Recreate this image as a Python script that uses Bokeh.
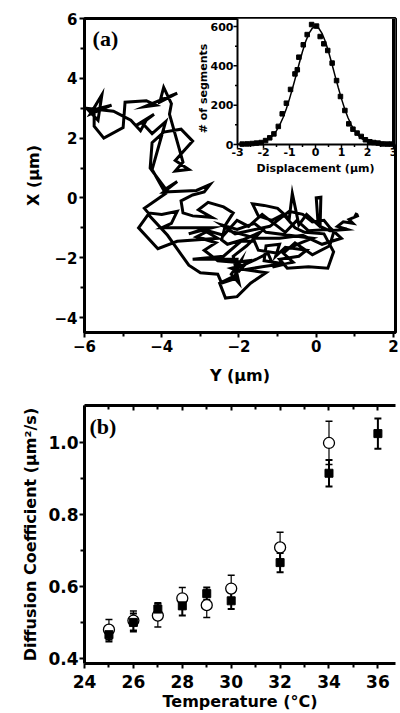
import math
from bokeh.plotting import figure
from bokeh.models import Range1d, LinearAxis, FixedTicker, ColumnDataSource, Whisker, TeeHead
from bokeh.layouts import column
from bokeh.embed import file_html
from bokeh.resources import INLINE
from bokeh.core.properties import value

# ---------------- data: panel (a) trajectory ----------------
traj_y_um = [1.05, 1.00, 1.10, 0.85, 0.95, 0.70, 0.55, 0.80, 0.35, 0.10, 0.12, 0.00, 0.05, -0.25, -0.45,
             -0.62, -0.70, -1.00, -1.35, -1.65, -1.50, -1.15, -0.85, -0.55, -0.30, 0.20, 0.45, 0.30, -0.20,
             -0.75, -0.95, -0.45, -0.25, -0.80, -1.05, -0.95, -1.30, -1.35, -0.85, -1.40, -1.85, -1.30, -1.70,
             -2.05, -2.35, -2.50, -2.10, -1.95, -2.20, -2.00, -2.15, -1.80, -1.45, -1.90, -2.30, -2.45, -2.35,
             -2.15, -2.40, -2.80, -3.05, -2.70, -3.20, -3.45, -3.50, -3.20, -2.90, -2.75, -3.10, -3.95, -3.60,
             -3.90, -4.30, -4.25, -3.95, -3.50, -3.20, -3.65, -3.30, -3.65, -3.45, -3.80, -3.75, -3.95, -4.05,
             -3.60, -4.45, -4.15, -4.40, -4.95, -5.00, -5.50, -5.75, -5.75, -5.30, -5.85, -5.55, -5.65, -5.95,
             -5.25, -4.80, -4.55, -4.40, -4.70, -4.20, -4.50, -4.25, -3.90, -4.25, -3.90, -4.45, -4.35, -4.00,
             -3.60, -3.75, -4.00, -2.70, -3.30, -2.95, -2.55, -3.60, -4.10, -4.60, -4.35, -3.85, -3.30, -3.00,
             -2.55, -2.45, -2.10, -2.05, -3.20, -2.40, -1.95, -1.60, -1.50, -1.00, -0.40, -0.10, -1.30, -1.60,
             -2.05, -2.45, -2.10, -1.20, -0.70, -0.35, -0.10, 0.20, 0.45, 0.35, -0.10, -0.55, -0.85, -0.60,
             -1.10, -1.25, -1.55, -1.90, -2.20, -2.00, -1.75, -2.10, -2.55, -2.90, -2.60, -3.10, -2.80, -2.40,
             -2.05, -1.75, -1.40, -1.10, -0.80, -0.50, -0.20, 0.40, 0.65, 0.15, -0.35, -0.95, -1.55, -2.25]
traj_x_um = [-0.50, -0.62, -0.58, -0.72, -0.85, -0.80, -0.95, -1.05, -1.10, -0.95, 0.02, 0.00, -0.90, -0.55,
             -0.90, 0.15, -0.70, -0.35, -0.25, -0.20, -0.60, -0.75, -0.55, -1.00, -1.15, -1.20, -1.80, -2.35,
             -2.30, -2.35, -2.05, -1.95, -1.75, -1.65, -1.95, -1.55, -1.60, -2.10, -2.20, -2.30, -2.40, -2.50,
             -2.85, -3.30, -3.35, -2.85, -2.60, -2.10, -2.55, -2.85, -1.95, -1.60, -1.15, -1.40, -1.55, -1.40,
             -0.90, -0.50, -0.30, -0.15, -0.40, -0.65, -0.60, -0.50, -0.10, 0.10, 0.20, 0.45, 0.25, 0.20, 0.55,
             0.30, 1.00, 1.85, 2.20, 2.30, 1.90, 1.25, 0.95, 0.90, 1.20, 2.80, 3.15, 3.70, 3.20, 3.50, 3.05,
             3.10, 3.25, 3.20, 2.35, 2.00, 2.40, 2.95, 3.10, 2.80, 3.45, 2.60, 3.00, 2.90, 2.60, 2.25, 2.60,
             2.40, 2.80, 2.50, 2.15, 2.55, 0.95, 0.15, -0.35, -0.50, -0.55, -0.45, -0.85, -1.00, -1.00, -1.20,
             -1.05, -1.35, -1.45, -1.70, -1.00, -0.55, -1.25, -2.25, -2.50, -2.55, -2.85, -2.70, -2.05, -2.05,
             -1.95, -1.45, -1.45, -1.75, -1.85, -1.50, -1.35, -1.15, -0.85, -1.05, -0.90, -1.20, -0.95, -0.45,
             -0.55, -0.80, -0.75, -1.15, -1.60, -1.90, -1.50, -1.85, -2.15, -2.30, -1.85, -2.05, -2.25, -2.35,
             -2.45, -2.10, -2.15, -2.10, -1.75, -1.50, -1.30, -1.10, -1.25, -0.75, -0.95, -0.55, -0.85, -1.15,
             -0.75, -1.10, -1.05, -1.35, -1.55, -1.25, -1.35, -1.35, -1.10]

# ---------------- data: inset histogram ----------------
hist_disp = [-2.82, -2.63, -2.44, -2.27, -2.09, -1.92, -1.76, -1.60, -1.43, -1.28, -1.12, -0.96, -0.79,
             -0.70, -0.64, -0.47, -0.32, -0.15, 0.04, 0.18, 0.32, 0.47, 0.64, 0.81, 0.96, 1.13, 1.28, 1.44,
             1.60, 1.76, 1.92, 2.09, 2.24, 2.41, 2.58, 2.76, 2.92]
hist_count = [2, 3, 5, 7, 10, 20, 34, 54, 92, 156, 210, 280, 359, 380, 444, 507, 559, 610, 602, 549, 512,
              478, 414, 325, 244, 173, 105, 78, 58, 41, 24, 14, 10, 7, 3, 2, 2]
fit_disp = [-3.0, -2.875, -2.75, -2.625, -2.5, -2.375, -2.25, -2.125, -2.0, -1.875, -1.75, -1.625, -1.5,
            -1.375, -1.25, -1.125, -1.0, -0.875, -0.75, -0.625, -0.5, -0.375, -0.25, -0.125, 0.0, 0.125,
            0.25, 0.375, 0.5, 0.625, 0.75, 0.875, 1.0, 1.125, 1.25, 1.375, 1.5, 1.625, 1.75, 1.875, 2.0,
            2.125, 2.25, 2.375, 2.5, 2.625, 2.75, 2.875, 3.0]
fit_count = [1, 1, 1, 2, 3, 4, 5, 9, 14, 22, 33, 49, 70, 100, 136, 181, 232, 290, 350, 413, 473, 525, 565,
             591, 600, 591, 565, 525, 473, 413, 350, 290, 232, 181, 136, 100, 70, 49, 33, 22, 14, 9, 5, 4, 3,
             2, 1, 1, 1]
inset_xticks = [-3, -2, -1, 0, 1, 2, 3]
inset_xminor = [-2.5, -1.5, -0.5, 0.5, 1.5, 2.5]
inset_yticks = [0, 200, 400, 600]
inset_yminor = [100, 300, 500]

# ---------------- data: panel (b) ----------------
temp_open = [25, 26, 27, 28, 29, 30, 32, 34]
d_open = [0.480, 0.505, 0.519, 0.567, 0.548, 0.594, 0.708, 0.998]
e_open = [0.028, 0.027, 0.032, 0.030, 0.034, 0.037, 0.042, 0.060]
temp_sq = [25, 26, 27, 28, 29, 30, 32, 34, 36]
d_sq = [0.466, 0.500, 0.537, 0.546, 0.580, 0.560, 0.666, 0.914, 1.024]
e_sq = [0.019, 0.025, 0.017, 0.027, 0.017, 0.023, 0.027, 0.037, 0.042]

SANS = "DejaVu Sans"
SERIF = "Liberation Serif"


def style_axis(ax, size):
    ax.axis_line_width = 3
    ax.axis_line_color = "black"
    ax.major_tick_line_width = 2
    ax.minor_tick_line_width = 2
    ax.major_tick_in = 0
    ax.major_tick_out = 5
    ax.minor_tick_in = 0
    ax.minor_tick_out = 4
    ax.major_label_text_font = SANS
    ax.major_label_text_font_style = "bold"
    ax.major_label_text_font_size = size
    ax.major_label_text_color = "black"
    ax.major_label_standoff = 2
    ax.axis_label_text_font = SANS
    ax.axis_label_text_font_style = "bold"
    ax.axis_label_text_color = "black"


# ================= Panel (a) =================
A_W, A_H = 400, 392
A_L, A_R, A_T, A_B = 84, 5, 18, 60
pa = figure(width=A_W, height=A_H, output_backend="svg", toolbar_location=None,
            x_range=Range1d(-6, 2.052), y_range=Range1d(-4.5, 6.0),
            min_border_left=A_L, min_border_right=A_R, min_border_top=A_T, min_border_bottom=A_B)
pa.grid.visible = False
pa.outline_line_color = "black"
pa.outline_line_width = 3
pa.xaxis.ticker = FixedTicker(ticks=[-6, -4, -2, 0, 2], minor_ticks=[-5, -3, -1, 1])
pa.yaxis.ticker = FixedTicker(ticks=[-4, -2, 0, 2, 4, 6], minor_ticks=[-3, -1, 1, 3, 5])
for ax in (pa.xaxis[0], pa.yaxis[0]):
    style_axis(ax, "15px")
    ax.axis_label_text_font_size = "16px"
pa.xaxis.axis_label = "Y (μm)"
pa.yaxis.axis_label = "X (μm)"
pa.xaxis.axis_label_standoff = 11
pa.yaxis.axis_label_standoff = 8

pa.line(traj_y_um, traj_x_um, line_color="black", line_width=3, line_join="miter")

pa.text(x=[-5.79], y=[5.33], text=["(a)"], text_font=value(SERIF), text_font_style="bold",
        text_font_size="22px", text_baseline="middle", text_align="left", text_color="black")

# ---- inset, drawn in extra ranges that map onto the inset box ----
frame_w = A_W - A_L - A_R
frame_h = A_H - A_T - A_B
inset_left_px = 153          # from frame left to inset x=-3
inset_zero_px = 126          # from frame top down to inset y=0
px_per_disp = 26.0
px_per_count = 118.0 / 600.0
ix0 = inset_xticks[0] - inset_left_px / px_per_disp
ix1 = ix0 + frame_w / px_per_disp
iy1 = inset_zero_px / px_per_count
iy0 = iy1 - frame_h / px_per_count
pa.extra_x_ranges = {"ix": Range1d(ix0, ix1)}
pa.extra_y_ranges = {"iy": Range1d(iy0, iy1)}
R = dict(x_range_name="ix", y_range_name="iy")

pa.quad(left=[inset_xticks[0]], right=[ix1], bottom=[0], top=[iy1], fill_color="white",
        line_color=None, **R)
pa.segment(x0=[inset_xticks[0], inset_xticks[0], inset_xticks[-1]], y0=[0, 0, 0],
           x1=[inset_xticks[0], ix1, inset_xticks[-1]], y1=[iy1, 0, iy1],
           line_color="black", line_width=[2, 2, 3], **R)
pa.ray(x=inset_xticks, y=[0] * len(inset_xticks), length=4, length_units="screen",
       angle=-math.pi / 2, line_color="black", line_width=1.5, **R)
pa.ray(x=inset_xminor, y=[0] * len(inset_xminor), length=2.5, length_units="screen",
       angle=-math.pi / 2, line_color="black", line_width=1.5, **R)
pa.ray(x=[inset_xticks[0]] * len(inset_yticks), y=inset_yticks, length=4, length_units="screen",
       angle=math.pi, line_color="black", line_width=1.5, **R)
pa.ray(x=[inset_xticks[0]] * len(inset_yminor), y=inset_yminor, length=2.5, length_units="screen",
       angle=math.pi, line_color="black", line_width=1.5, **R)
pa.text(x=inset_xticks, y=[0] * len(inset_xticks), text=[str(t) for t in inset_xticks],
        y_offset=3, text_baseline="top", text_align="center", text_font=value(SANS),
        text_font_style="bold", text_font_size="11px", text_color="black", **R)
pa.text(x=[inset_xticks[0]] * len(inset_yticks), y=inset_yticks, text=[str(t) for t in inset_yticks],
        x_offset=-4, text_baseline="middle", text_align="right", text_font=value(SANS),
        text_font_style="bold", text_font_size="11px", text_color="black", **R)
pa.text(x=[0], y=[0], text=["Displacement (μm)"], y_offset=17, text_baseline="top", text_align="center",
        text_font=value(SANS), text_font_style="bold", text_font_size="11px", text_color="black", **R)
pa.text(x=[inset_xticks[0]], y=[285], text=["# of segments"], x_offset=-34, angle=math.pi / 2,
        text_baseline="middle", text_align="center", text_font=value(SANS), text_font_style="bold",
        text_font_size="11px", text_color="black", **R)
pa.line(fit_disp, fit_count, line_color="black", line_width=1.5, **R)
pa.scatter(hist_disp, hist_count, marker="square", size=4.5, fill_color="black", line_color="black", **R)

# ================= Panel (b) =================
pb = figure(width=400, height=321, output_backend="svg", toolbar_location=None,
            x_range=Range1d(24, 36.72), y_range=Range1d(0.386, 1.102),
            min_border_left=83, min_border_right=0, min_border_top=13, min_border_bottom=48)
pb.grid.visible = False
pb.outline_line_color = None
pb.xaxis.ticker = FixedTicker(ticks=[24, 26, 28, 30, 32, 34, 36], minor_ticks=[25, 27, 29, 31, 33, 35])
pb.yaxis.ticker = FixedTicker(ticks=[0.4, 0.6, 0.8, 1.0], minor_ticks=[0.5, 0.7, 0.9])
pb.yaxis.major_label_overrides = {0.4: "0.4", 0.6: "0.6", 0.8: "0.8", 1.0: "1.0"}
for ax in (pb.xaxis[0], pb.yaxis[0]):
    style_axis(ax, "17px")
    ax.axis_label_text_font_size = "16px"
pb.xaxis.axis_label = "Temperature (°C)"
pb.yaxis.axis_label = "Diffusion Coefficient (μm²/s)"
pb.xaxis.axis_label_standoff = 1
pb.yaxis.axis_label_standoff = 5
pb.xaxis.major_label_standoff = 6
pb.yaxis.major_label_standoff = 1

top_ax = LinearAxis(ticker=FixedTicker(ticks=[24, 26, 28, 30, 32, 34, 36],
                                       minor_ticks=[25, 27, 29, 31, 33, 35]))
style_axis(top_ax, "1px")
top_ax.major_tick_in = 5
top_ax.major_tick_out = 0
top_ax.minor_tick_in = 4
top_ax.minor_tick_out = 0
top_ax.major_label_overrides = {t: "" for t in [24, 26, 28, 30, 32, 34, 36]}
top_ax.major_label_standoff = 0
pb.add_layout(top_ax, "above")

src_o = ColumnDataSource(dict(t=temp_open, d=d_open,
                              lo=[a - b for a, b in zip(d_open, e_open)],
                              hi=[a + b for a, b in zip(d_open, e_open)]))
src_s = ColumnDataSource(dict(t=temp_sq, d=d_sq,
                              lo=[a - b for a, b in zip(d_sq, e_sq)],
                              hi=[a + b for a, b in zip(d_sq, e_sq)]))
pb.add_layout(Whisker(source=src_o, base="t", lower="lo", upper="hi", line_width=1.2, line_color="black",
                      upper_head=TeeHead(size=7, line_width=1.5, line_color="black"),
                      lower_head=TeeHead(size=7, line_width=1.5, line_color="black")))
pb.scatter("t", "d", source=src_o, marker="circle", size=11, fill_color="white", line_color="black",
           line_width=1.3)
pb.add_layout(Whisker(source=src_s, base="t", lower="lo", upper="hi", line_width=2, line_color="black",
                      upper_head=TeeHead(size=7, line_width=2, line_color="black"),
                      lower_head=TeeHead(size=7, line_width=2, line_color="black")))
pb.scatter("t", "d", source=src_s, marker="square", size=8, fill_color="black", line_color="black")

pb.text(x=[24.2], y=[1.044], text=["(b)"], text_font=value(SERIF), text_font_style="bold",
        text_font_size="22px", text_baseline="middle", text_align="left", text_color="black")

layout = column(pa, pb)
open("out.html", "w").write(file_html(layout, INLINE))
